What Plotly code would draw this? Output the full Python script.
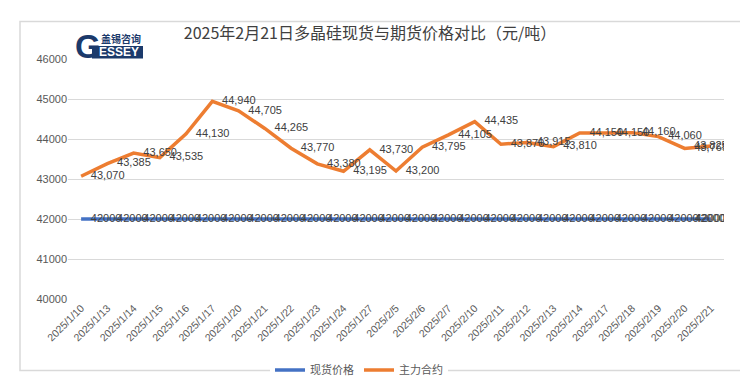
import plotly.graph_objects as go

dates = ["2025/1/10", "2025/1/13", "2025/1/14", "2025/1/15", "2025/1/16", "2025/1/17",
         "2025/1/20", "2025/1/21", "2025/1/22", "2025/1/23", "2025/1/24", "2025/1/27",
         "2025/2/5", "2025/2/6", "2025/2/7", "2025/2/10", "2025/2/11", "2025/2/12",
         "2025/2/13", "2025/2/14", "2025/2/17", "2025/2/18", "2025/2/19", "2025/2/20",
         "2025/2/21"]
spot = [42000] * 25
futures = [43070, 43385, 43650, 43535, 44130, 44940, 44705, 44265, 43770, 43380,
           43195, 43730, 43200, 43795, 44105, 44435, 43870, 43915, 43810, 44150,
           44150, 44160, 44060, 43765, 43825]
y_ticks = [40000, 41000, 42000, 43000, 44000, 45000, 46000]

W, H = 748, 388
L, R, T, B = 60, 716, 51, 300


def xp(px):
    return (px - L) / (R - L)


def yp(py):
    return (B - py) / (B - T)


BLUE = "#4472C4"
ORANGE = "#ED7D31"
NAVY = "#1B3A6B"
LABEL = "#404040"

fig = go.Figure()
xs = list(range(len(dates)))

fig.add_trace(go.Scatter(x=xs, y=spot, mode="lines", name="现货价格",
                         line=dict(color=BLUE, width=3.5)))
fig.add_trace(go.Scatter(x=xs, y=futures, mode="lines", name="主力合约",
                         line=dict(color=ORANGE, width=3.5)))

pos = ["middle right"] * (len(dates) - 1) + ["middle center"]
fig.add_trace(go.Scatter(x=xs, y=spot, mode="markers+text", showlegend=False,
                         text=[str(v) for v in spot], textposition=pos,
                         marker=dict(size=14, color="rgba(0,0,0,0)"),
                         textfont=dict(size=11, color=LABEL, family="Liberation Sans"),
                         hoverinfo="skip"))
fig.add_trace(go.Scatter(x=xs, y=futures, mode="markers+text", showlegend=False,
                         text=[f"{v:,}" for v in futures], textposition=pos,
                         marker=dict(size=14, color="rgba(0,0,0,0)"),
                         textfont=dict(size=11, color=LABEL, family="Liberation Sans"),
                         hoverinfo="skip"))

fig.update_layout(
    width=W, height=H,
    margin=dict(l=L, r=W - R, t=T, b=H - B),
    paper_bgcolor="white", plot_bgcolor="white",
    font=dict(family="Liberation Sans, Noto Sans CJK SC", color="#595959"),
    title=dict(text="2025年2月21日多晶硅现货与期货价格对比（元/吨）",
               x=362 / W, xanchor="center", xref="container",
               y=1 - 25 / H, yanchor="middle", yref="container",
               font=dict(size=16, color=LABEL, family="Noto Sans CJK SC")),
    xaxis=dict(tickmode="array", tickvals=xs, ticktext=dates, tickangle=-45,
               range=[-0.5, len(dates) - 0.5], showgrid=False, zeroline=False,
               showline=False, ticks="", tickfont=dict(size=10.5, color="#595959")),
    yaxis=dict(range=[40000, 46000], tickvals=y_ticks, ticktext=[str(v) for v in y_ticks],
               showgrid=True, gridcolor="#D9D9D9", gridwidth=1, zeroline=False,
               showline=False, ticks="", tickfont=dict(size=11, color="#595959")),
    legend=dict(orientation="h", xref="container", yref="container",
                x=351 / W, xanchor="center", y=1 - 362 / H, yanchor="middle",
                font=dict(size=11, color="#595959", family="Noto Sans CJK SC"),
                itemwidth=30),
    showlegend=True,
)

# chart frame
fig.add_shape(type="rect", xref="paper", yref="paper",
              x0=xp(12), x1=xp(735), y0=yp(374), y1=yp(12),
              line=dict(color="#D9D9D9", width=1.5), layer="below")

# logo
fig.add_shape(type="rect", xref="paper", yref="paper",
              x0=xp(84), x1=xp(135), y0=yp(50.5), y1=yp(37.5),
              fillcolor=NAVY, line=dict(width=0))
fig.add_annotation(xref="paper", yref="paper", x=xp(111), y=yp(44), text="<b>ESSEY</b>",
                   showarrow=False, font=dict(size=12, color="white", family="Liberation Sans"),
                   xanchor="center", yanchor="middle")
fig.add_annotation(xref="paper", yref="paper", x=xp(80), y=yp(38), text="<b>G</b>",
                   showarrow=False, font=dict(size=33, color=NAVY, family="Liberation Sans"),
                   xanchor="center", yanchor="middle")
fig.add_annotation(xref="paper", yref="paper", x=xp(113), y=yp(30), text="<b>盖锡咨询</b>",
                   showarrow=False, font=dict(size=10, color=NAVY, family="Noto Sans CJK SC"),
                   xanchor="center", yanchor="middle")

fig.write_html("out.html")
